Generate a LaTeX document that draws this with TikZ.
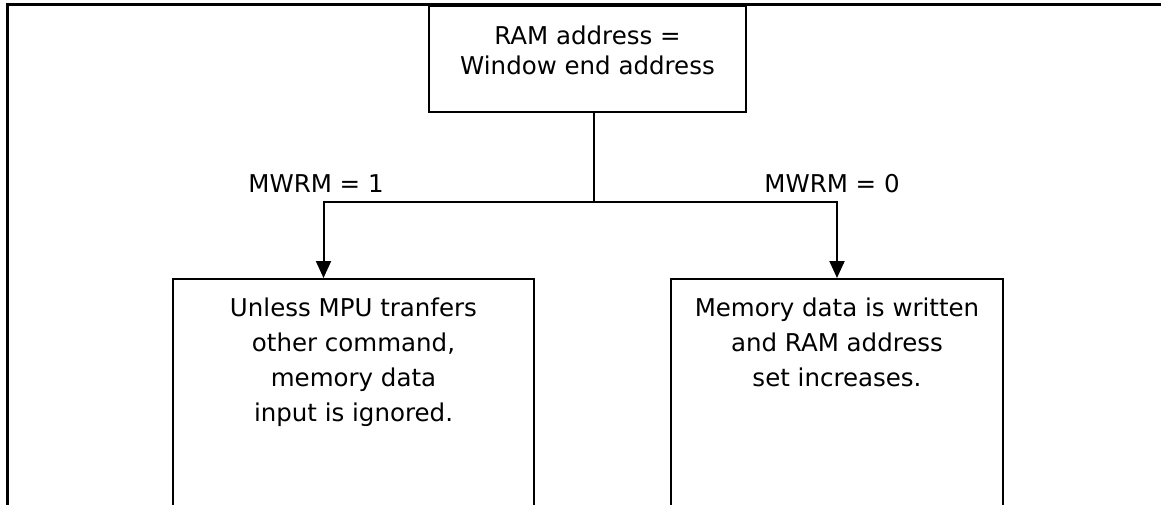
\documentclass[tikz,border=0pt]{standalone}
\usepackage{fontspec}
\setmainfont{DejaVu Sans}
\usetikzlibrary{arrows.meta,positioning}

\begin{document}
\begin{tikzpicture}[x=1pt, y=-1pt, >={Triangle[length=17pt,width=15pt]},
    block/.style={draw, line width=2pt, inner sep=0pt, anchor=north west},
    cond/.style={inner sep=0pt, font=\fontsize{24.5}{29}\selectfont},
    link/.style={line width=2pt}]
  \useasboundingbox (0,0) rectangle (1161,504);
  \clip (0,0) rectangle (1161,504);
  % frame, cut by the page
  \draw[line width=3pt] (7,530) |- (1180,4);
  \node [block] (top) at (428,5)
    {\parbox[t][106pt][t]{317pt}{\centering\fontsize{24.5}{30}\selectfont
     \vspace*{20pt}RAM address =\\Window end address}};
  \node [block] (lbox) at (172,278)
    {\parbox[t][260pt][t]{361pt}{\centering\fontsize{24.5}{35}\selectfont
     \vspace*{19pt}Unless MPU tranfers\\other command,\\memory data\\input is ignored.}};
  \node [block] (rbox) at (670,278)
    {\parbox[t][260pt][t]{332pt}{\centering\fontsize{24.5}{35}\selectfont
     \vspace*{19pt}Memory data is written\\and RAM address\\set increases.}};
  \node [cond] (m1) at (316,184) {MWRM = 1};
  \node [cond] (m0) at (832,184) {MWRM = 0};
  \coordinate (split) at (594,202);
  \draw[link] (top.south -| split) -- (split);
  \draw[link,->] (split) -| ([xshift=-30pt]lbox.north);
  \draw[link,->] (split) -| (rbox.north);
\end{tikzpicture}
\end{document}
